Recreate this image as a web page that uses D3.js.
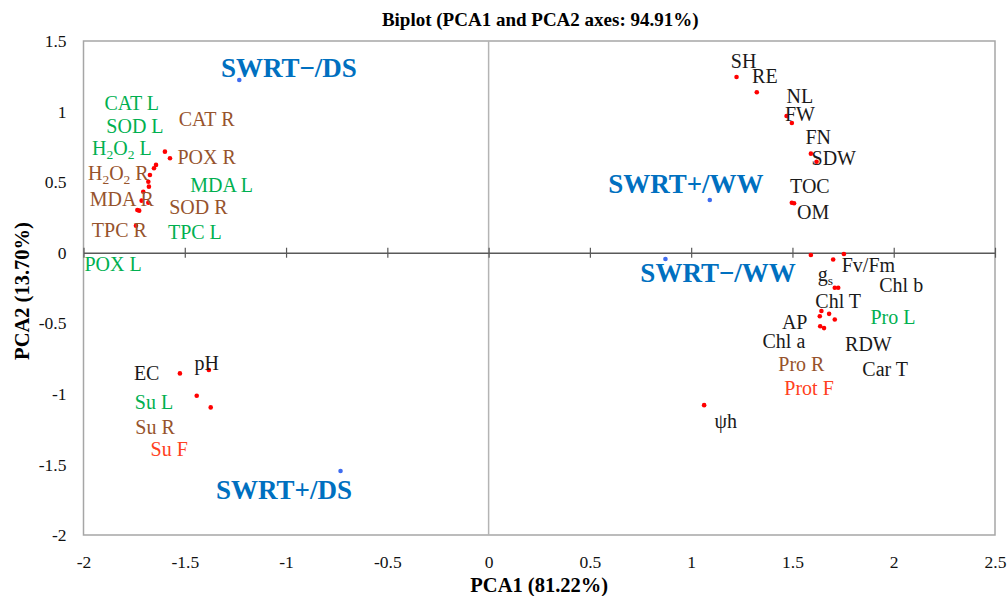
<!DOCTYPE html>
<html>
<head>
<meta charset="utf-8">
<script src="https://cdn.jsdelivr.net/npm/d3@7/dist/d3.min.js"></script>
<style>
  body { margin: 0; background: #fff; }
  svg { display: block; }
  svg text { font-family: "Liberation Serif", "Times New Roman", serif; }
</style>
</head>
<body>
<svg id="chart" width="1008" height="596"></svg>
<script>
// tick values
const xTicks = [-2, -1.5, -1, -0.5, 0, 0.5, 1, 1.5, 2, 2.5];
const yTicks = [-2, -1.5, -1, -0.5, 0, 0.5, 1, 1.5];

// observations (blue)
const obsNames = ["SWRT\u2212/DS", "SWRT+/WW", "SWRT\u2212/WW", "SWRT+/DS"];
const obsX = [-1.231, 1.092, 0.873, -0.731];
const obsY = [1.224, 0.373, -0.045, -1.547];
const obsLabelX = [-0.986, 0.974, 1.133, -1.010];
const obsLabelY = [1.310, 0.487, -0.144, -1.676];

// variable points (red)
const varX = [
  -1.598, -1.573, -1.642, -1.652, -1.672, -1.680, -1.677, -1.705, -1.713, -1.680, -1.734, -1.725, -1.741,
  1.224, 1.324, 1.471, 1.497, 1.591, 1.619, 1.497, 1.508,
  1.591, 1.754, 1.701, 1.709, 1.726, 1.643, 1.681, 1.635, 1.709, 1.637, 1.656, 1.064,
  -1.524, -1.381, -1.441, -1.372
];
const varY = [
  0.716, 0.669, 0.622, 0.598, 0.551, 0.503, 0.468, 0.432, 0.369, 0.354, 0.303, 0.298, 0.191,
  1.245, 1.137, 0.969, 0.919, 0.702, 0.645, 0.354, 0.350,
  -0.016, -0.009, -0.048, -0.248, -0.248, -0.413, -0.433, -0.450, -0.473, -0.521, -0.534, -1.080,
  -0.855, -0.831, -1.013, -1.096
];

// variable labels ("_" marks a one-letter subscript), anchored in data units
const labelText = [
  "CAT L", "SOD L", "CAT R", "H_2O_2 L", "POX R", "H_2O_2 R", "MDA L", "MDA R", "SOD R", "TPC R", "TPC L", "POX L",
  "SH", "RE", "NL", "FW", "FN", "SDW", "TOC", "OM",
  "Fv/Fm", "g_s", "Chl b", "Chl T", "Pro L", "AP", "Chl a", "RDW", "Pro R", "Car T", "Prot F", "\u03c8h",
  "EC", "pH", "Su L", "Su R", "Su F"
];
const labelGroup = [
  "L", "L", "R", "L", "R", "R", "L", "R", "R", "R", "L", "L",
  "O", "O", "O", "O", "O", "O", "O", "O",
  "O", "O", "O", "O", "L", "O", "O", "O", "R", "O", "F", "O",
  "O", "O", "L", "R", "F"
];
const labelX = [
  -1.762, -1.746, -1.392, -1.811, -1.392, -1.828, -1.318, -1.811, -1.433, -1.823, -1.450, -1.854,
  1.259, 1.364, 1.537, 1.537, 1.627, 1.704, 1.586, 1.602,
  1.875, 1.662, 2.037, 1.726, 1.996, 1.511, 1.458, 1.875, 1.544, 1.958, 1.582, 1.171,
  -1.688, -1.392, -1.652, -1.647, -1.577
];
const labelY = [
  1.061, 0.901, 0.945, 0.740, 0.680, 0.563, 0.480, 0.378, 0.326, 0.161, 0.145, -0.080,
  1.361, 1.254, 1.111, 0.983, 0.822, 0.669, 0.475, 0.291,
  -0.089, -0.148, -0.226, -0.342, -0.457, -0.488, -0.624, -0.647, -0.785, -0.826, -0.957, -1.189,
  -0.855, -0.784, -1.060, -1.233, -1.393
];

const groupColor = { L: "#00b050", R: "#96532c", F: "#ff4020", O: "#1a1a1a" };
const serif = "'Liberation Serif', 'Times New Roman', serif";

const svg = d3.select("#chart");
const plotLeft = 83.5, plotRight = 995, plotTop = 41, plotBottom = 535;

const x = d3.scaleLinear().domain([-2, 2.5]).range([plotLeft, plotRight]);
const y = d3.scaleLinear().domain([-2, 1.5]).range([plotBottom, plotTop]);

// title
svg.append("text")
  .attr("x", (plotLeft + plotRight) / 2 + 1)
  .attr("y", 26)
  .attr("text-anchor", "middle")
  .style("font-family", serif)
  .style("font-size", "19px")
  .style("font-weight", "bold")
  .text("Biplot (PCA1 and PCA2 axes: 94.91%)");

// plot frame
svg.append("rect")
  .attr("x", plotLeft).attr("y", plotTop)
  .attr("width", plotRight - plotLeft).attr("height", plotBottom - plotTop)
  .attr("fill", "none")
  .attr("stroke", "#a6a6a6")
  .attr("stroke-width", 1.5);

// vertical zero line
svg.append("line")
  .attr("x1", x(0)).attr("x2", x(0))
  .attr("y1", plotTop).attr("y2", plotBottom)
  .attr("stroke", "#b4b4b4")
  .attr("stroke-width", 1.5);

// horizontal axis through y = 0
const xAxis = d3.axisBottom(x).tickValues(xTicks).tickSize(0).tickFormat("");
const gx = svg.append("g").attr("transform", `translate(0,${y(0)})`).call(xAxis);
gx.select(".domain").attr("stroke", "#595959").attr("stroke-width", 1.5);
gx.selectAll(".tick").append("line")
  .attr("y1", -5).attr("y2", 5)
  .attr("stroke", "#595959").attr("stroke-width", 1.2);

// x tick labels along the bottom (plain hyphen for negatives)
const xLab = d3.axisBottom(x).tickValues(xTicks).tickSize(0).tickPadding(0).tickFormat(d => String(d));
const gxl = svg.append("g").attr("transform", `translate(0,${plotBottom + 21})`).call(xLab);
gxl.attr("font-family", null);
gxl.select(".domain").remove();
gxl.selectAll("text")
  .attr("fill", "#111")
  .style("font-family", serif)
  .style("font-size", "17.5px");

// y tick labels on the left
const yLab = d3.axisLeft(y).tickValues(yTicks).tickSize(0).tickPadding(0).tickFormat(d => String(d));
const gyl = svg.append("g").attr("transform", `translate(${plotLeft - 17},0)`).call(yLab);
gyl.attr("font-family", null);
gyl.select(".domain").remove();
gyl.selectAll("text")
  .attr("fill", "#111")
  .style("font-family", serif)
  .style("font-size", "17.5px");

// axis titles
svg.append("text")
  .attr("x", (plotLeft + plotRight) / 2)
  .attr("y", 592)
  .attr("text-anchor", "middle")
  .style("font-family", serif)
  .style("font-size", "20.5px")
  .style("font-weight", "bold")
  .text("PCA1 (81.22%)");

svg.append("text")
  .attr("transform", `translate(29,${(plotTop + plotBottom) / 2 + 3}) rotate(-90)`)
  .attr("text-anchor", "middle")
  .style("font-family", serif)
  .style("font-size", "20.5px")
  .style("font-weight", "bold")
  .text("PCA2 (13.70%)");

// red variable points
svg.append("g").selectAll("circle")
  .data(varX.map((v, i) => [v, varY[i]]))
  .join("circle")
  .attr("cx", d => x(d[0]))
  .attr("cy", d => y(d[1]))
  .attr("r", 2.3)
  .attr("fill", "#ff0000");

// variable labels, subscripts as smaller lowered tspans
const subShift = 4;
function addLabel(sel, str) {
  const parts = str.split(/(_.)/).filter(p => p);
  let lowered = false;
  parts.forEach(p => {
    if (p[0] === "_") {
      sel.append("tspan").attr("dy", subShift).style("font-size", "13.5px").text(p[1]);
      lowered = true;
    } else {
      const t = sel.append("tspan").text(p);
      if (lowered) { t.attr("dy", -subShift); lowered = false; }
    }
  });
}

const labs = svg.append("g").selectAll("text")
  .data(labelText.map((t, i) => ({ t: t, x: labelX[i], y: labelY[i], g: labelGroup[i] })))
  .join("text")
  .attr("x", d => x(d.x))
  .attr("y", d => y(d.y))
  .attr("dy", "0.35em")
  .attr("text-anchor", "middle")
  .attr("fill", d => groupColor[d.g])
  .style("font-family", serif)
  .style("font-size", "20px");
labs.each(function (d) { addLabel(d3.select(this), d.t); });

// blue observation points
svg.append("g").selectAll("circle")
  .data(obsX.map((v, i) => [v, obsY[i]]))
  .join("circle")
  .attr("cx", d => x(d[0]))
  .attr("cy", d => y(d[1]))
  .attr("r", 2.3)
  .attr("fill", "#3f6cf0");

svg.append("g").selectAll("text")
  .data(obsNames.map((n, i) => ({ n: n, x: obsLabelX[i], y: obsLabelY[i] })))
  .join("text")
  .attr("x", d => x(d.x))
  .attr("y", d => y(d.y))
  .attr("dy", "0.35em")
  .attr("text-anchor", "middle")
  .attr("fill", "#0070c0")
  .style("font-family", serif)
  .style("font-size", "27px")
  .style("font-weight", "bold")
  .text(d => d.n);
</script>
</body>
</html>
